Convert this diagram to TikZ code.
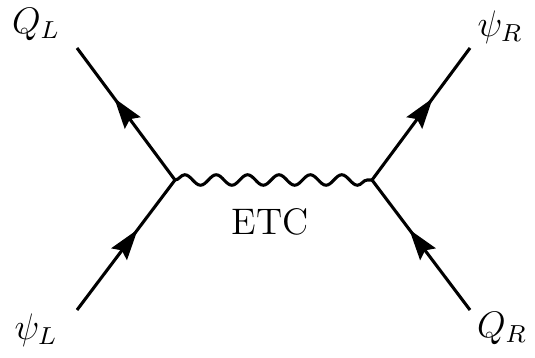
\documentclass[tikz,border=0pt]{standalone}
\usetikzlibrary{decorations.pathmorphing,decorations.markings,arrows.meta}
\begin{document}
\begin{tikzpicture}[x=0.325pt,y=-0.325pt,
  fermion/.style={line width=1pt, postaction={decorate},
    decoration={markings, mark=at position 0.62 with {\arrow{Stealth[length=10pt,width=6.3pt,inset=1.5pt]}}}},
  boson/.style={line width=1pt, decorate,
    decoration={snake, segment length=10.2pt, amplitude=1.7pt}},
  lbl/.style={inner sep=0pt, font=\large}]
\useasboundingbox (0,0) rectangle (535,358);
\coordinate (v1) at (175,180);
\coordinate (v2) at (372,180);
\coordinate (a) at (77,48);
\coordinate (b) at (77,310);
\coordinate (c) at (470,48);
\coordinate (d) at (470,310);
\draw[fermion] (b) -- (v1);
\draw[fermion] (v1) -- (a);
\draw[fermion] (v2) -- (c);
\draw[fermion] (d) -- (v2);
\draw[boson] (v1) -- (v2);
\node[lbl] (ql) at (36,24) {$Q_L$};
\node[lbl] (pl) at (36,330) {$\psi_L$};
\node[lbl] (pr) at (500,27) {$\psi_R$};
\node[lbl] (qr) at (502,328) {$Q_R$};
\node[lbl] (etc) at (270,222) {ETC};
\end{tikzpicture}
\end{document}
